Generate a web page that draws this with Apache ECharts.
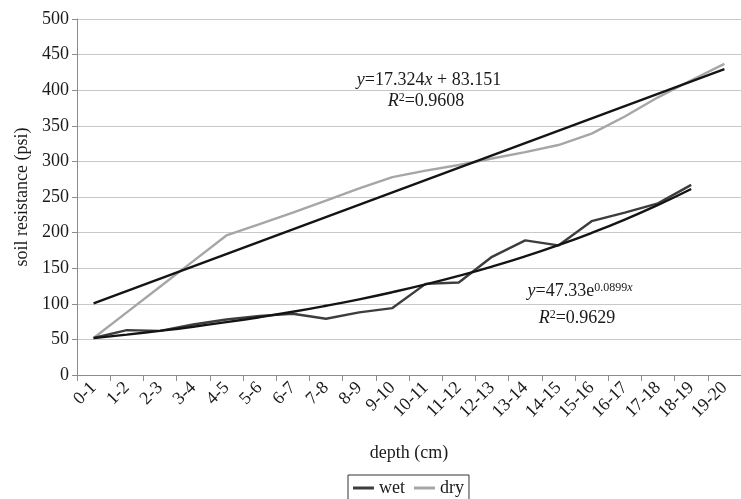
<!DOCTYPE html>
<html>
<head>
<meta charset="utf-8">
<script src="https://cdn.jsdelivr.net/npm/echarts@6/dist/echarts.min.js"></script>
<style>html,body{margin:0;padding:0;background:#fff;}#c{width:741px;height:499px;}</style>
</head>
<body>
<div id="c"></div>
<script>
var categories = ['0-1','1-2','2-3','3-4','4-5','5-6','6-7','7-8','8-9','9-10','10-11','11-12','12-13','13-14','14-15','15-16','16-17','17-18','18-19','19-20'];
var wet = [52, 63, 62, 71, 78, 83, 86, 79, 88, 94, 128, 130, 166, 189, 182, 216, 228, 241, 267];
var dry = [52, 88, 124, 160, 196, 212, 228, 245, 262, 278, 287, 295, 304, 313, 323, 339, 363, 390, 414, 437];
var linTrendEnds = [['0-1', 100.5], ['19-20', 429.6]];
var expTrend = [51.8, 56.7, 62.0, 67.8, 74.2, 81.2, 88.8, 97.2, 106.3, 116.3, 127.2, 139.2, 152.3, 166.6, 182.3, 199.5, 218.2, 238.8, 261.2];
var yTicks = {min: 0, max: 500, interval: 50};

var FF = '"Liberation Serif", "Times New Roman", serif';
var chart = echarts.init(document.getElementById('c'), null, {renderer: 'canvas'});
var rich = {
  i: {fontStyle: 'italic', fontFamily: FF, fontSize: 18, color: '#1a1a1a'},
  s: {fontFamily: FF, fontSize: 12, color: '#1a1a1a', verticalAlign: 'top'},
  si: {fontFamily: FF, fontSize: 12, fontStyle: 'italic', color: '#1a1a1a', verticalAlign: 'top'}
};
function eq(txt, x, y) {
  return {
    type: 'text', x: x, y: y, z: 100,
    style: {
      text: txt, rich: rich, fontFamily: FF, fontSize: 18, fill: '#1a1a1a',
      align: 'center', verticalAlign: 'middle', textAlign: 'center', textVerticalAlign: 'middle'
    }
  };
}
chart.setOption({
  animation: false,
  backgroundColor: '#fff',
  textStyle: {fontFamily: FF},
  grid: {left: 77, top: 19, right: -9, bottom: 124, containLabel: false},
  legend: {
    data: ['wet', 'dry'],
    top: 475, left: 348,
    borderColor: '#333', borderWidth: 1, padding: [4, 5, 8, 5],
    itemWidth: 21, itemHeight: 3, itemGap: 9, icon: 'rect',
    textStyle: {fontFamily: FF, fontSize: 18, color: '#1a1a1a'}
  },
  xAxis: {
    type: 'category', data: categories, boundaryGap: true,
    name: 'depth (cm)', nameLocation: 'middle', nameGap: 69,
    nameTextStyle: {fontFamily: FF, fontSize: 18, color: '#1a1a1a'},
    axisLine: {lineStyle: {color: '#8c8c8c', width: 1}},
    axisTick: {show: true, length: 6, lineStyle: {color: '#8c8c8c'}},
    axisLabel: {interval: 0, rotate: 45, margin: 10, fontFamily: FF, fontSize: 18, color: '#1a1a1a'},
    splitLine: {show: false}
  },
  yAxis: {
    type: 'value', min: yTicks.min, max: yTicks.max, interval: yTicks.interval,
    name: 'soil resistance (psi)', nameLocation: 'middle', nameGap: 46,
    nameTextStyle: {fontFamily: FF, fontSize: 18, color: '#1a1a1a'},
    axisLine: {show: true, lineStyle: {color: '#8c8c8c', width: 1}},
    axisTick: {show: true, length: 5, lineStyle: {color: '#8c8c8c'}},
    axisLabel: {margin: 8, fontFamily: FF, fontSize: 18, color: '#1a1a1a'},
    splitLine: {show: true, lineStyle: {color: '#c8c8c8', width: 1.1}}
  },
  series: [
    {name: 'dry', type: 'line', data: dry, symbol: 'none', lineStyle: {color: '#a6a6a6', width: 2.4}, itemStyle: {color: '#a6a6a6'}, z: 2},
    {name: 'wet', type: 'line', data: wet, symbol: 'none', lineStyle: {color: '#3d3d3d', width: 2.4}, itemStyle: {color: '#3d3d3d'}, z: 3},
    {name: 'linear trend', type: 'line', data: linTrendEnds, symbol: 'none', lineStyle: {color: '#141414', width: 2.4}, z: 4},
    {name: 'exp trend', type: 'line', data: expTrend, symbol: 'none', smooth: true, lineStyle: {color: '#141414', width: 2.4}, z: 4}
  ],
  graphic: [
    eq('{i|y}=17.324{i|x} + 83.151', 429, 80),
    eq('{i|R}{s|2}=0.9608', 426, 101),
    eq('{i|y}=47.33e{s|0.0899}{si|x}', 580, 291),
    eq('{i|R}{s|2}=0.9629', 577, 318)
  ]
});
</script>
</body>
</html>
